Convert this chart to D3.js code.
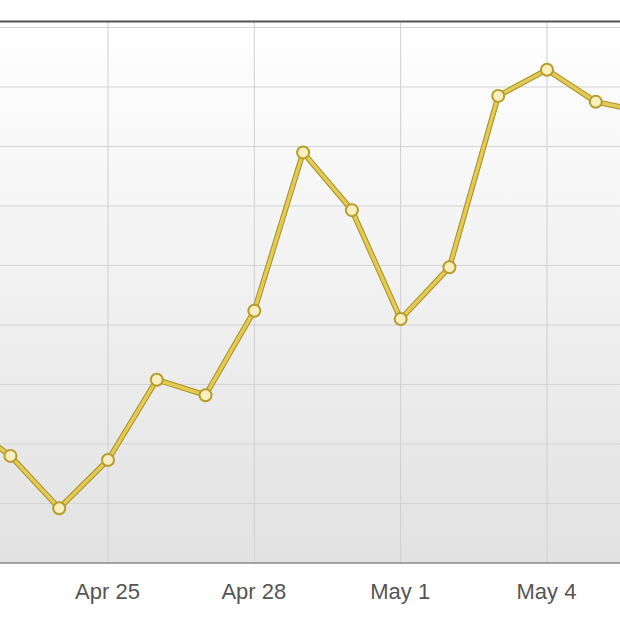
<!DOCTYPE html><html><head><meta charset="utf-8"><script src="https://cdn.jsdelivr.net/npm/d3@7"></script>
<style>body{margin:0;background:#fff}svg{display:block}</style></head><body>
<script>
const dates=["2024-04-22","2024-04-23","2024-04-24","2024-04-25","2024-04-26","2024-04-27","2024-04-28","2024-04-29","2024-04-30","2024-05-01","2024-05-02","2024-05-03","2024-05-04","2024-05-05","2024-05-06"];
const values=[24,18.0,9.2,17.3,30.8,28.2,42.4,69.0,59.3,41.0,49.7,78.5,82.9,77.5,75.8];
const tickDates=["2024-04-22","2024-04-25","2024-04-28","2024-05-01","2024-05-04"];
const yTicks=[0,10,20,30,40,50,60,70,80,90];
const W=620,H=620;
const p=d3.utcParse("%Y-%m-%d");
const svg=d3.select("body").append("svg").attr("width",W).attr("height",H);
const x=d3.scaleUtc().domain([p("2024-04-25"),p("2024-05-04")]).range([108,547]);
const y=d3.scaleLinear().domain([0,91]).range([563,21.5]);
const defs=svg.append("defs");
const g=defs.append("linearGradient").attr("id","bg").attr("x1",0).attr("y1",0).attr("x2",0).attr("y2",1);
g.append("stop").attr("offset",0).attr("stop-color","#ffffff");
g.append("stop").attr("offset",1).attr("stop-color","#e2e2e2");
svg.append("rect").attr("x",-10).attr("y",y(91)).attr("width",W+20).attr("height",y(0)-y(91)).attr("fill","url(#bg)");
svg.append("g").selectAll("line").data(yTicks.slice(1)).join("line")
 .attr("x1",0).attr("x2",W).attr("y1",d=>y(d)).attr("y2",d=>y(d)).attr("stroke","#d4d4d4");
svg.append("g").selectAll("line").data(tickDates).join("line")
 .attr("x1",d=>x(p(d))).attr("x2",d=>x(p(d))).attr("y1",y(91)).attr("y2",y(0)).attr("stroke","#cfcfcf");
svg.append("line").attr("x1",0).attr("x2",W).attr("y1",y(91)).attr("y2",y(91)).attr("stroke","#555").attr("stroke-width",2);
svg.append("line").attr("x1",0).attr("x2",W).attr("y1",y(0)).attr("y2",y(0)).attr("stroke","#888").attr("stroke-width",1.5);
const ax=svg.append("g").attr("transform",`translate(0,${y(0)})`)
 .call(d3.axisBottom(x).tickValues(tickDates.map(p)).tickFormat(d3.utcFormat("%b %-d")).tickSize(0).tickPadding(20));
ax.select(".domain").remove();
ax.selectAll("text").attr("font-family","Liberation Sans, Arial").attr("font-size",22).attr("fill","#555").attr("dx",-1);
const data=dates.map((d,i)=>({d:p(d),v:values[i]}));
const line=d3.line().x(d=>x(d.d)).y(d=>y(d.v));
svg.append("path").datum(data).attr("d",line).attr("fill","none").attr("stroke","#a8901e").attr("stroke-width",5.5).attr("stroke-linejoin","round");
svg.append("path").datum(data).attr("d",line).attr("fill","none").attr("stroke","#e3c955").attr("stroke-width",3.5).attr("stroke-linejoin","round");
svg.append("g").selectAll("circle").data(data).join("circle")
 .attr("cx",d=>x(d.d)).attr("cy",d=>y(d.v)).attr("r",6).attr("fill","#f7efbf").attr("stroke","#b89c2a").attr("stroke-width",2);
</script></body></html>
